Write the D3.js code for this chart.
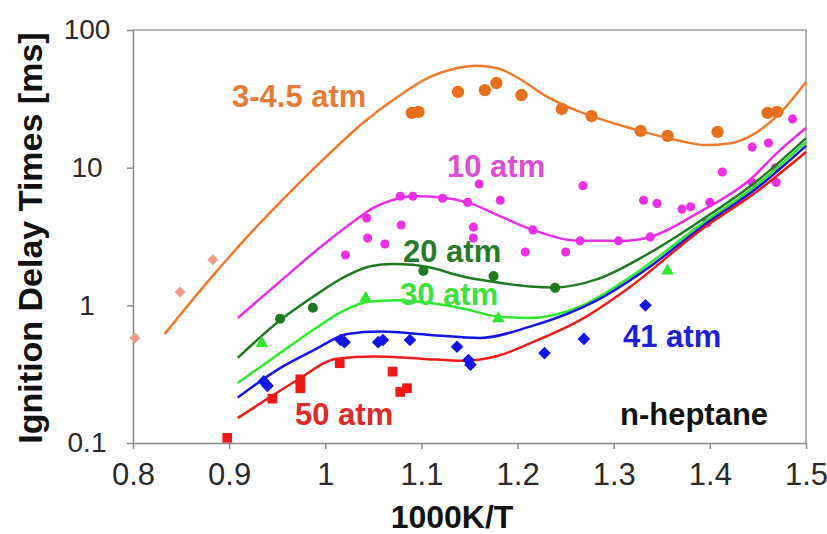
<!DOCTYPE html>
<html>
<head>
<meta charset="utf-8">
<script src="https://cdn.jsdelivr.net/npm/d3@7"></script>
<style>
  body { margin: 0; background: #fff; }
  text { font-family: "Liberation Sans", Arial, sans-serif; }
</style>
</head>
<body>
<script>
// model curves (1000K/T, ms)
var orangeX = [0.833, 0.88, 0.925, 0.965, 1.005, 1.04, 1.075, 1.109, 1.135, 1.158, 1.18, 1.2, 1.23, 1.265, 1.30, 1.335, 1.365, 1.395, 1.42, 1.44, 1.473, 1.5];
var orangeY = [0.62, 1.55, 3.5, 6.8, 12.8, 21.4, 32.6, 45.6, 52.5, 55.0, 52.5, 45.0, 33, 25.4, 21, 17.9, 15.9, 14.6, 15.0, 16.7, 24.9, 41.9];

var magentaX = [0.909, 0.95, 0.99, 1.028, 1.05, 1.075, 1.095, 1.119, 1.148, 1.18, 1.216, 1.265, 1.307, 1.338, 1.39, 1.442, 1.47, 1.5];
var magentaY = [0.81, 1.43, 2.48, 4.0, 5.1, 5.95, 6.2, 6.1, 5.6, 4.5, 3.53, 2.94, 2.94, 3.14, 4.8, 8.2, 12.8, 19.4];

var dkgreenX = [0.909, 0.953, 0.987, 1.023, 1.047, 1.07, 1.091, 1.109, 1.143, 1.175, 1.213, 1.239, 1.283, 1.335, 1.39, 1.45, 1.5];
var dkgreenY = [0.415, 0.78, 1.15, 1.65, 1.92, 2.0, 1.97, 1.88, 1.62, 1.48, 1.37, 1.35, 1.55, 2.35, 4.1, 8.1, 16.4];

var ltgreenX = [0.909, 0.95, 0.987, 1.02, 1.045, 1.075, 1.109, 1.143, 1.179, 1.213, 1.265, 1.317, 1.387, 1.45, 1.5];
var ltgreenY = [0.273, 0.435, 0.66, 0.92, 1.06, 1.09, 1.04, 0.95, 0.83, 0.81, 0.98, 1.6, 3.7, 7.6, 15.4];

var blueX = [0.909, 0.953, 0.99, 1.023, 1.057, 1.109, 1.161, 1.213, 1.283, 1.335, 1.39, 1.45, 1.5];
var blueY = [0.214, 0.35, 0.48, 0.62, 0.645, 0.61, 0.58, 0.70, 1.09, 1.85, 3.65, 7.2, 14.4];

var redX = [0.909, 0.94, 0.971, 1.012, 1.05, 1.1, 1.143, 1.18, 1.213, 1.265, 1.317, 1.39, 1.45, 1.5];
var redY = [0.152, 0.21, 0.287, 0.41, 0.425, 0.41, 0.395, 0.43, 0.53, 0.78, 1.36, 3.5, 6.8, 13.0];

// measurements
var orangePtsX = [1.090, 1.097, 1.138, 1.166, 1.178, 1.204, 1.246, 1.277, 1.328, 1.356, 1.408, 1.460, 1.470];
var orangePtsY = [25.0, 25.4, 35.5, 36.6, 41.2, 33.7, 26.7, 23.7, 18.5, 17.0, 18.2, 25.0, 25.4];

var pinkPtsX = [0.802, 0.849, 0.883];
var pinkPtsY = [0.58, 1.25, 2.14];

var magentaPtsX = [1.043, 1.078, 1.091, 1.122, 1.148, 1.079, 1.154, 1.044, 1.062, 1.021, 1.154, 1.16, 1.182, 1.216, 1.208, 1.25, 1.265, 1.268, 1.305, 1.331, 1.345, 1.338, 1.371, 1.380, 1.4, 1.413, 1.397, 1.444, 1.461, 1.486, 1.444, 1.468, 1.469];
var magentaPtsY = [4.31, 6.2, 6.2, 6.0, 5.6, 3.83, 3.7, 3.08, 2.79, 2.32, 3.08, 7.6, 5.8, 3.53, 2.44, 2.44, 2.94, 7.4, 2.94, 5.8, 5.5, 3.14, 5.0, 5.2, 5.6, 9.3, 3.96, 14.1, 15.1, 22.6, 7.8, 9.96, 7.8];

var dkgreenPtsX = [0.953, 0.987, 1.102, 1.175, 1.239];
var dkgreenPtsY = [0.80, 0.96, 1.78, 1.63, 1.34];

var ltgreenPtsX = [0.934, 1.042, 1.18, 1.356];
var ltgreenPtsY = [0.53, 1.13, 0.80, 1.78];

var bluePtsX = [0.936, 0.94, 1.016, 1.02, 1.055, 1.06, 1.088, 1.137, 1.149, 1.151, 1.228, 1.269, 1.333];
var bluePtsY = [0.28, 0.26, 0.56, 0.54, 0.54, 0.56, 0.56, 0.50, 0.40, 0.37, 0.45, 0.57, 1.0];

var redPtsX = [0.898, 0.945, 0.974, 0.974, 1.015, 1.070, 1.078, 1.085];
var redPtsY = [0.109, 0.21, 0.29, 0.25, 0.38, 0.33, 0.235, 0.25];

var xTicks = [0.8, 0.9, 1.0, 1.1, 1.2, 1.3, 1.4, 1.5];
var yTicks = [0.1, 1, 10, 100];

var W = 827, H = 534;
var mLeft = 133, mRight = 806, mTop = 30, mBottom = 443;

var svg = d3.select("body").append("svg").attr("width", W).attr("height", H);

var x = d3.scaleLinear().domain([0.8, 1.5]).range([mLeft, mRight]);
var y = d3.scaleLog().domain([0.1, 100]).range([mBottom, mTop]);

// frame top / right
svg.append("path")
  .attr("d", "M" + mLeft + "," + mTop + "H" + mRight + "V" + mBottom)
  .attr("fill", "none").attr("stroke", "#b4b4b4").attr("stroke-width", 2);

var xAxis = svg.append("g").attr("transform", "translate(0," + mBottom + ")")
  .call(d3.axisBottom(x).tickValues(xTicks).tickSize(6).tickSizeOuter(0)
    .tickFormat(function (d) { return String(+d.toFixed(1)); }));
xAxis.select(".domain").attr("stroke", "#888").attr("stroke-width", 1.5);
xAxis.selectAll(".tick line").attr("stroke", "#888").attr("stroke-width", 1.5);
xAxis.selectAll("text").attr("y", 14).attr("dy", "0.9em")
  .style("font-size", "31px").attr("fill", "#2a2a2a");

var yAxis = svg.append("g").attr("transform", "translate(" + mLeft + ",0)")
  .call(d3.axisLeft(y).tickValues(yTicks).tickSize(6).tickSizeOuter(0)
    .tickFormat(function (d) { return String(d); }));
yAxis.select(".domain").attr("stroke", "#888").attr("stroke-width", 1.5);
yAxis.selectAll(".tick line").attr("stroke", "#888").attr("stroke-width", 1.5);
yAxis.selectAll("text").attr("x", -46).attr("dy", "0.32em")
  .attr("text-anchor", "middle").style("font-size", "28px").attr("fill", "#2a2a2a");

// axis titles
svg.append("text").attr("x", 452).attr("y", 528).attr("text-anchor", "middle")
  .style("font-size", "32px").style("font-weight", "bold").attr("fill", "#111")
  .text("1000K/T");
svg.append("text").attr("transform", "translate(42,238) rotate(-90)")
  .attr("text-anchor", "middle")
  .style("font-size", "34px").style("font-weight", "bold").attr("fill", "#111")
  .text("Ignition Delay Times [ms]");

var line = d3.line()
  .x(function (d) { return x(d[0]); })
  .y(function (d) { return y(d[1]); })
  .curve(d3.curveMonotoneX);

function curve(xs, ys, color) {
  svg.append("path").datum(d3.zip(xs, ys))
    .attr("d", line).attr("fill", "none")
    .attr("stroke", color).attr("stroke-width", 2.5);
}

function points(xs, ys, color, shape, size, rot) {
  var sym = d3.symbol().type(shape).size(size);
  svg.append("g").selectAll("path").data(d3.zip(xs, ys)).join("path")
    .attr("transform", function (d) {
      return "translate(" + x(d[0]) + "," + y(d[1]) + ")" + (rot ? " rotate(45)" : "");
    })
    .attr("d", sym).attr("fill", color);
}

points(pinkPtsX, pinkPtsY, "#f09a90", d3.symbolSquare, 60, true);
points(orangePtsX, orangePtsY, "#e8701c", d3.symbolCircle, 120);
points(magentaPtsX, magentaPtsY, "#ee2ee6", d3.symbolCircle, 65);

curve(orangeX, orangeY, "#f07a2a");
curve(magentaX, magentaY, "#e82ee6");
curve(dkgreenX, dkgreenY, "#1f7a1f");
curve(ltgreenX, ltgreenY, "#2ee82e");
curve(blueX, blueY, "#1414e6");
curve(redX, redY, "#ee1a1a");

points(dkgreenPtsX, dkgreenPtsY, "#1f7a1f", d3.symbolCircle, 80);
points(ltgreenPtsX, ltgreenPtsY, "#2ee82e", d3.symbolTriangle, 70);
points(bluePtsX, bluePtsY, "#1414e6", d3.symbolSquare, 80, true);
points(redPtsX, redPtsY, "#ee1a1a", d3.symbolSquare, 95);

// labels
var labels = [
  { t: "3-4.5 atm", x: 232, y: 107, c: "#e67a36" },
  { t: "10 atm", x: 447, y: 177, c: "#dc4ed2" },
  { t: "20 atm", x: 403, y: 262, c: "#2a7a2a" },
  { t: "30 atm", x: 400, y: 305, c: "#3ee23e" },
  { t: "41 atm", x: 623, y: 347, c: "#2020d8" },
  { t: "50 atm", x: 295, y: 425, c: "#e02a2a" },
  { t: "n-heptane", x: 620, y: 425, c: "#111" }
];
svg.append("g").selectAll("text").data(labels).join("text")
  .attr("x", function (d) { return d.x; }).attr("y", function (d) { return d.y; })
  .style("font-size", "31px").style("font-weight", "bold")
  .attr("fill", function (d) { return d.c; })
  .text(function (d) { return d.t; });
</script>
</body>
</html>
